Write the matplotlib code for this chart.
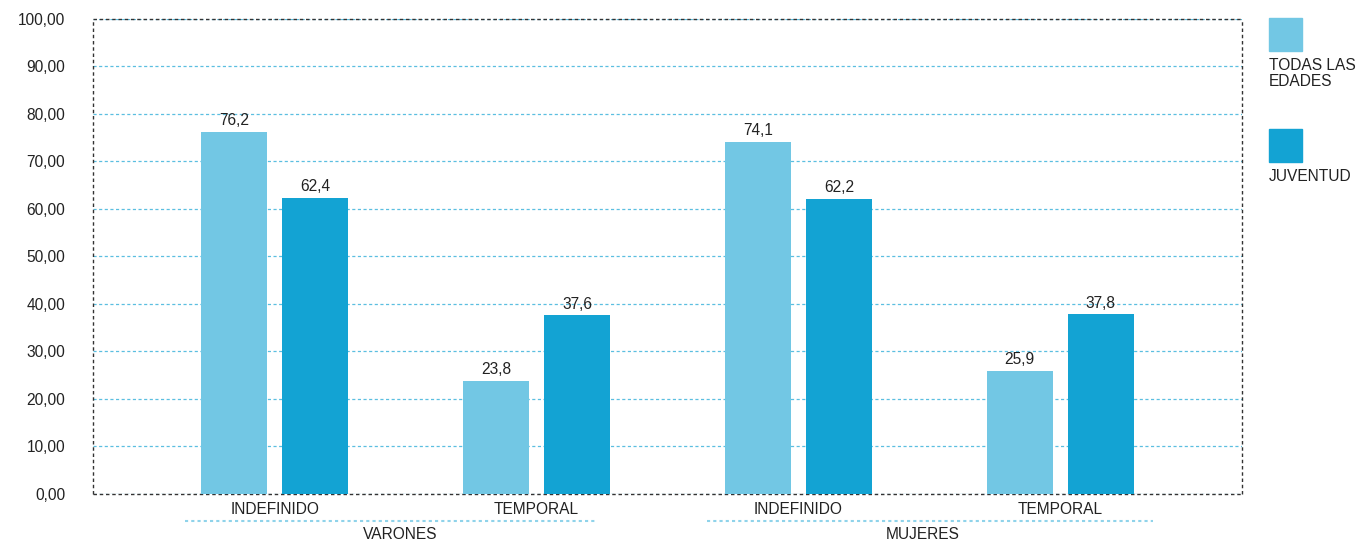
import numpy as np
import matplotlib
matplotlib.use('Agg')
import matplotlib.pyplot as plt
from matplotlib.patches import Rectangle

categories = ['INDEFINIDO', 'TEMPORAL', 'INDEFINIDO', 'TEMPORAL']
groups = ['VARONES', 'MUJERES']
todas = [76.2, 23.8, 74.1, 25.9]
juventud = [62.4, 37.6, 62.2, 37.8]
series_names = ['TODAS LAS\nEDADES', 'JUVENTUD']
yticks = [0, 10, 20, 30, 40, 50, 60, 70, 80, 90, 100]

c_light = '#72C7E4'
c_dark = '#13A3D3'
fs = 11.2

plt.rcParams['font.family'] = ['Liberation Sans', 'DejaVu Sans']

fig = plt.figure(figsize=(13.57, 5.42), dpi=100)
ax = fig.add_axes([0.0685, 0.0886, 0.8468, 0.8764])

x = np.arange(len(categories))
w = 0.252
off = 0.155
b1 = ax.bar(x - off, todas, w, color=c_light, zorder=3)
b2 = ax.bar(x + off, juventud, w, color=c_dark, zorder=3)

for bars, vals in [(b1, todas), (b2, juventud)]:
    for r, v in zip(bars, vals):
        ax.text(r.get_x() + r.get_width() / 2, v + 0.8, f'{v:.1f}'.replace('.', ','),
                ha='center', va='bottom', fontsize=fs, color='#222222')

ax.set_xlim(-0.695, 3.695)
ax.set_ylim(0, 100)
ax.set_yticks(yticks)
ax.set_yticklabels([f'{t:.2f}'.replace('.', ',') for t in yticks], fontsize=fs, color='#222222')
ax.set_xticks(x)
ax.set_xticklabels(categories, fontsize=fs, color='#222222')
ax.tick_params(length=0, pad=6)
ax.tick_params(axis='y', pad=20)

ax.yaxis.grid(True, linestyle=(0, (2.5, 2)), color='#5BBFE0', linewidth=0.9, zorder=0)
ax.set_axisbelow(True)
for s in ax.spines.values():
    s.set_linestyle((0, (2.5, 2)))
    s.set_linewidth(1.0)
    s.set_color('#333333')
    s.set_capstyle('butt')

# group labels below the category ticks
trans = ax.get_xaxis_transform()
spans = [(-0.345, 1.223), (1.65, 3.355)]
centers = [0.48, 2.475]
for g, (lo, hi), c in zip(groups, spans, centers):
    ax.plot([lo, hi], [-0.057, -0.057], transform=trans, clip_on=False,
            color='#8FD3EA', linestyle=(0, (1.5, 1.5)), linewidth=1.5)
    ax.text(c, -0.07, g, transform=trans, ha='center', va='top',
            fontsize=fs, color='#222222')

# legend on the right
fig.patches.append(Rectangle((1269 / 1357, 1 - 51 / 542), 33 / 1357, 33 / 542,
                             transform=fig.transFigure, color=c_light))
fig.text(1269 / 1357, 1 - 58 / 542, series_names[0], ha='left', va='top',
         fontsize=fs, color='#222222', linespacing=1.1)
fig.patches.append(Rectangle((1269 / 1357, 1 - 162 / 542), 33 / 1357, 33 / 542,
                             transform=fig.transFigure, color=c_dark))
fig.text(1269 / 1357, 1 - 169 / 542, series_names[1], ha='left', va='top',
         fontsize=fs, color='#222222')

fig.savefig('out.png', dpi=100)
